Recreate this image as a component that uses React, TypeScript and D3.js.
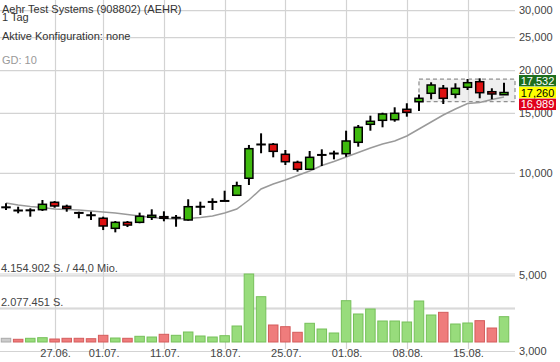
import React from "react";
import * as d3 from "d3";

const dates = ["21.06.","22.06.","23.06.","24.06.","27.06.","28.06.","29.06.","30.06.","01.07.","05.07.","06.07.","07.07.","08.07.","11.07.","12.07.","13.07.","14.07.","15.07.","18.07.","19.07.","20.07.","21.07.","22.07.","25.07.","26.07.","27.07.","28.07.","29.07.","01.08.","02.08.","03.08.","04.08.","05.08.","08.08.","09.08.","10.08.","11.08.","12.08.","15.08.","16.08.","17.08.","18.08."];
const openV = [7960,7790,7790,7820,8220,8000,7665,7545,7380,6895,7180,7180,7430,7460,7420,7295,7985,8255,8310,8620,9670,12170,12165,11370,10770,10275,11340,11450,11415,12330,13925,14305,14365,15410,16220,17170,17760,17055,17880,18570,17355,17000];
const highV = [8165,7980,7894,8350,8290,8090,7715,7715,7460,7245,7245,7665,7840,7735,7545,8390,8255,8445,8890,9450,12110,13100,12270,11705,10890,11625,11760,11650,13335,13860,14760,15060,15620,16050,17030,18495,18160,18370,18910,19000,17760,18440];
const lowV = [7804,7632,7459,7750,7925,7715,7380,7295,6815,6710,6955,7135,7295,7230,6970,7260,7545,7805,8290,8580,9240,11450,11140,10575,10110,10225,10505,10990,11185,11970,13335,13645,14170,14660,15235,16490,15970,16600,17555,16600,16490,17000];
const closeV = [7950,7785,7800,8110,8020,7895,7660,7540,7005,7180,7050,7480,7530,7380,7415,7980,7990,8250,8305,9195,11810,12160,11600,10815,10275,11140,11335,11445,12440,13645,14210,14930,15000,15100,16600,18160,16600,17760,18445,17240,17090,17260];
const volumeV = [226000,165000,226000,263000,183000,226000,226000,202000,409000,244000,226000,348000,305000,470000,409000,611000,367000,305000,385000,978000,4154902,2768000,1039000,935000,593000,1143000,794000,550000,2524000,1711000,2016000,1283000,1283000,1222000,2505000,1650000,1813000,1100000,1161000,1303000,855000,1547000];
const ma10 = [8182,8072,7991,7937,7857,7830,7804,7751,7699,7648,7570,7494,7418,7368,7343,7368,7418,7494,7648,7857,8350,8993,9303,9557,9852,10157,10541,10830,11164,11509,11864,12189,12439,12866,13490,14143,14828,15442,16025,16134,16464,16745];

const tickDates = ["27.06.","01.07.","11.07.","18.07.","25.07.","01.08.","08.08.","15.08."];
const priceTicks = [30000, 25000, 20000, 15000, 10000, 5000, 3000];
const priceGridOnly = [4000];
const rangeHigh = 18900;
const rangeLow = 16220;
const rangeStartIndex = 34;
const quoteLabels = ["17,532", "17,260", "16,989"];
const currentQuote = 17260;
const turnoverText = "44,0 Mio.";
const titleText = "Aehr Test Systems (908802) (AEHR)";
const periodText = "1 Tag";
const configText = "Aktive Konfiguration: none";
const maText = "GD: 10";

const W = 560, H = 362;
const FONT = "Arial, 'Liberation Sans', Helvetica, sans-serif";

export default function App() {
  const x = d3.scalePoint<string>().domain(dates).range([6, 504]);
  const y = d3.scaleLog().domain([10000, 30000]).range([173.3, 10.7]);
  const volMax = d3.max(volumeV) as number;
  const yv = d3.scaleLinear().domain([0, volMax]).range([342, 274]);
  const de = d3.formatLocale({ decimal: ",", thousands: ".", grouping: [3], currency: ["", "€"] });
  const fmtVol = de.format(",d");
  const fmtPrice = d3.format(",");
  const gridRight = 515;
  const bodyW = 8;
  const barW = 9.5;

  const maLine = d3.line<number>().x((_, i) => x(dates[i]) as number).y((d) => y(d));

  const boxX0 = x(dates[rangeStartIndex]) as number;
  const boxX1 = (x(dates[dates.length - 1]) as number) + 11;

  const qy = y(currentQuote);
  const labelColors = [
    { bg: "#1d6e1d", fg: "#fff" },
    { bg: "#ffff00", fg: "#000" },
    { bg: "#e0001b", fg: "#fff" },
  ];

  return (
    <svg width={W} height={H} style={{ position: "absolute", left: 0, top: 0, background: "#fff" }} fontFamily={FONT}>
      {/* range box */}
      <rect x={boxX0} y={y(rangeHigh)} width={boxX1 - boxX0} height={y(rangeLow) - y(rangeHigh)} fill="#efefef" stroke="#777" strokeDasharray="4,3" strokeWidth={1} />
      {/* vertical grid */}
      {tickDates.map((d) => {
        const xx = Math.round(x(d) as number) + 0.5;
        return <line key={"v" + d} x1={xx} x2={xx} y1={0} y2={349} stroke="#d3d3d3" strokeWidth={1.2} />;
      })}
      {/* horizontal price grid */}
      {[...priceTicks, ...priceGridOnly].map((t) => {
        const yy = y(t);
        return <line key={"h" + t} x1={0} x2={gridRight} y1={yy} y2={yy} stroke="#d3d3d3" strokeWidth={1.2} />;
      })}
      {/* volume grid */}
      {[volMax, volMax / 2].map((t) => (
        <line key={"vg" + t} x1={0} x2={gridRight} y1={yv(t)} y2={yv(t)} stroke="#d3d3d3" strokeWidth={1.2} />
      ))}
      {/* price labels */}
      {priceTicks.map((t) => (
        <text key={"pl" + t} x={519} y={y(t) + 3.5} fontSize={11} fill="#444">{fmtPrice(t)}</text>
      ))}
      {/* title texts */}
      <text x={2} y={12.7} fontSize={11} fill="#333">{titleText}</text>
      <text x={2} y={20.7} fontSize={11} fill="#333">{periodText}</text>
      <text x={2} y={39.5} fontSize={11} fill="#333">{configText}</text>
      <text x={2} y={63.5} fontSize={11} fill="#999">{maText}</text>
      {/* volume labels */}
      <text x={1} y={271.5} fontSize={11} fill="#444">{fmtVol(volMax) + " S. / " + turnoverText}</text>
      <text x={1} y={306} fontSize={11} fill="#444">{fmtVol(volMax / 2) + " S."}</text>
      {/* volume bars */}
      {volumeV.map((v, i) => {
        const cx = x(dates[i]) as number;
        let fill = "#cccccc", stroke = "#aaaaaa";
        if (i > 0) {
          if (closeV[i] >= closeV[i - 1]) { fill = "#98dc7c"; stroke = "#76c05a"; }
          else { fill = "#ef7c7c"; stroke = "#d45c5c"; }
        }
        return <rect key={"vb" + i} x={cx - barW / 2} y={yv(v)} width={barW} height={yv(0) - yv(v)} fill={fill} stroke={stroke} strokeWidth={1} />;
      })}
      {/* MA line */}
      <path d={maLine(ma10) || ""} fill="none" stroke="#9a9a9a" strokeWidth={1.5} />
      {/* candles */}
      {dates.map((d, i) => {
        const cx = x(d) as number;
        const o = openV[i], c = closeV[i];
        const top = y(Math.max(o, c));
        const bot = y(Math.min(o, c));
        const up = c >= o;
        return (
          <g key={"c" + i}>
            <line x1={cx} x2={cx} y1={y(highV[i])} y2={y(lowV[i])} stroke="#000" strokeWidth={2} />
            <rect x={cx - bodyW / 2} y={top} width={bodyW} height={Math.max(bot - top, 0.5)} fill={up ? "#3fba0e" : "#dd1111"} stroke="#000" strokeWidth={1.5} />
          </g>
        );
      })}
      {/* date labels */}
      {tickDates.map((d) => (
        <text key={"dl" + d} x={(x(d) as number) + 1} y={357} fontSize={11} fill="#444" textAnchor="middle">{d}</text>
      ))}
      {/* quote labels */}
      {quoteLabels.map((t, i) => {
        const cy = qy + (i - 1) * 11.8;
        return (
          <g key={"q" + i}>
            <rect x={519} y={cy - 5.7} width={37} height={11.4} fill={labelColors[i].bg} />
            <text x={537.5} y={cy + 4} fontSize={11} fill={labelColors[i].fg} textAnchor="middle">{t}</text>
          </g>
        );
      })}
    </svg>
  );
}
